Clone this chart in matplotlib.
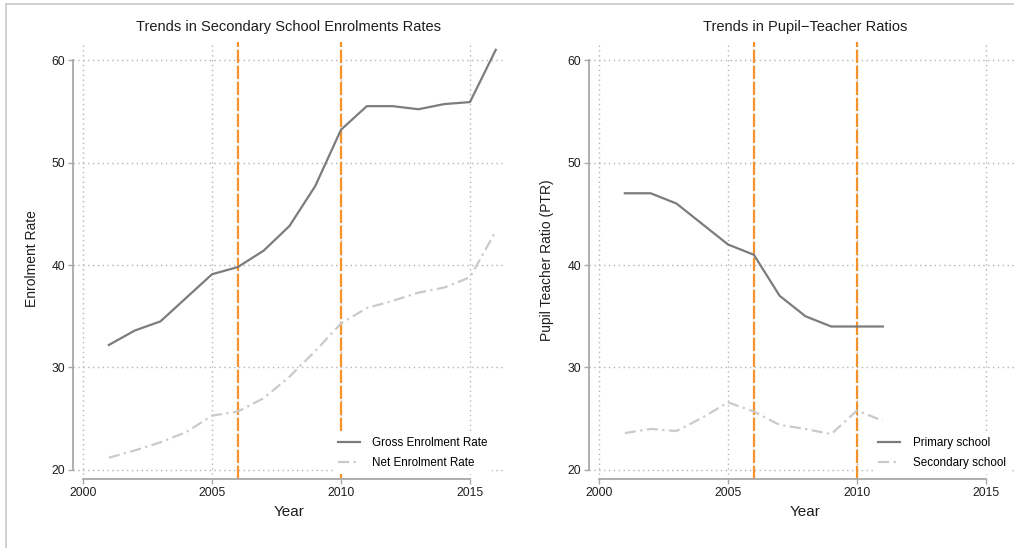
import numpy as np
import matplotlib
matplotlib.use('Agg')
import matplotlib.pyplot as plt
from matplotlib.lines import Line2D

plt.rcParams['font.family'] = ['Liberation Sans', 'DejaVu Sans']

# data
years_enrol = [2001, 2002, 2003, 2004, 2005, 2006, 2007, 2008,
               2009, 2010, 2011, 2012, 2013, 2014, 2015, 2016]
gross_enrol = [32.2, 33.6, 34.5, 36.8, 39.1, 39.8, 41.4, 43.8,
               47.7, 53.2, 55.5, 55.5, 55.2, 55.7, 55.9, 61.0]
net_enrol = [21.2, 21.9, 22.7, 23.7, 25.3, 25.7, 27.0, 29.1,
             31.6, 34.3, 35.8, 36.5, 37.3, 37.8, 38.8, 43.3]

years_ptr = [2001, 2002, 2003, 2004, 2005, 2006, 2007, 2008, 2009, 2010, 2011]
primary_ptr = [47, 47, 46, 44, 42, 41, 37, 35, 34, 34, 34]
secondary_ptr = [23.6, 24.0, 23.8, 25.1, 26.6, 25.7, 24.4, 24.0, 23.5, 25.8, 24.8]

policy_years = [2006, 2010]
xticks = [2000, 2005, 2010, 2015]
yticks = [20, 30, 40, 50, 60]

W, H = 1014, 548
fig = plt.figure(figsize=(W / 100, H / 100), dpi=100)
fig.patch.set_facecolor('white')

axis_col = '#a8a8a8'
grid_col = '#b4b4b4'
orange = '#f5922a'
dark = '#7c7c7c'
light = '#cacaca'


def px_axes(left, top, right, bottom):
    return [left / W, 1 - bottom / H, (right - left) / W, (bottom - top) / H]


def style_axes(ax):
    ax.set_xlim(1999.61, 2016.28)
    ax.set_ylim(19.12, 61.76)
    for s in ['top', 'right']:
        ax.spines[s].set_visible(False)
    ax.spines['left'].set_bounds(20, 60)
    ax.spines['bottom'].set_bounds(2000, 2015)
    for s in ['left', 'bottom']:
        ax.spines[s].set_color(axis_col)
        ax.spines[s].set_linewidth(1.3)
    ax.set_xticks(xticks)
    ax.set_yticks(yticks)
    ax.tick_params(length=3.6, width=1.0, color=axis_col, labelsize=8.7,
                   labelcolor='#1e1e1e', pad=2)
    for y in yticks:
        ax.axhline(y, color=grid_col, lw=1.0, ls=(0, (1, 2.5)), zorder=0)
    for x in xticks:
        ax.axvline(x, color=grid_col, lw=1.0, ls=(0, (1, 2.5)), zorder=0)
    for x in policy_years:
        ax.axvline(x, color=orange, lw=1.6, dashes=(6.0, 1.2), zorder=1)


# left panel
ax1 = fig.add_axes(px_axes(73, 42, 503, 479))
style_axes(ax1)
ax1.plot(years_enrol, gross_enrol, color=dark, lw=1.6, label='Gross Enrolment Rate', zorder=3)
ax1.plot(years_enrol, net_enrol, color=light, lw=1.6, dashes=(5, 2, 1, 2),
         label='Net Enrolment Rate', zorder=3)
leg1 = ax1.legend(loc='lower left', bbox_to_anchor=(0.605, 0.012), fontsize=8.4,
                  frameon=True, facecolor='white', edgecolor='none', framealpha=1,
                  handlelength=1.9, handletextpad=1.05, labelspacing=0.7,
                  borderpad=0.4, borderaxespad=0)
leg1.set_zorder(5)

# right panel
ax2 = fig.add_axes(px_axes(589, 42, 1019, 479))
style_axes(ax2)
ax2.plot(years_ptr, primary_ptr, color=dark, lw=1.6, label='Primary school', zorder=3)
ax2.plot(years_ptr, secondary_ptr, color=light, lw=1.6, dashes=(5, 2, 1, 2),
         label='Secondary school', zorder=3)
leg2 = ax2.legend(loc='lower left', bbox_to_anchor=(0.662, 0.012), fontsize=8.4,
                  frameon=True, facecolor='white', edgecolor='none', framealpha=1,
                  handlelength=1.9, handletextpad=1.05, labelspacing=0.7,
                  borderpad=0.4, borderaxespad=0)
leg2.set_zorder(5)

# titles and axis labels
fig.text(289 / W, 1 - 27.5 / H, 'Trends in Secondary School Enrolments Rates',
         ha='center', va='center', fontsize=10.5, color='#1e1e1e')
fig.text(805 / W, 1 - 27.5 / H, 'Trends in Pupil\u2212Teacher Ratios',
         ha='center', va='center', fontsize=10.5, color='#1e1e1e')
fig.text(289 / W, 1 - 512 / H, 'Year', ha='center', va='center', fontsize=11, color='#1e1e1e')
fig.text(805 / W, 1 - 512 / H, 'Year', ha='center', va='center', fontsize=11, color='#1e1e1e')
fig.text(32 / W, 1 - 259 / H, 'Enrolment Rate', ha='center', va='center',
         rotation=90, fontsize=10, color='#1e1e1e')
fig.text(547 / W, 1 - 260 / H, 'Pupil Teacher Ratio (PTR)', ha='center', va='center',
         rotation=90, fontsize=10, color='#1e1e1e')

# page frame
fig.add_artist(Line2D([5.5 / W, 5.5 / W], [0, 1 - 4 / H], color='#c8c8c8', lw=1.2,
                      transform=fig.transFigure))
fig.add_artist(Line2D([5.5 / W, 1], [1 - 4 / H, 1 - 4 / H], color='#c8c8c8', lw=1.2,
                      transform=fig.transFigure))

fig.savefig('out.png', dpi=100)
